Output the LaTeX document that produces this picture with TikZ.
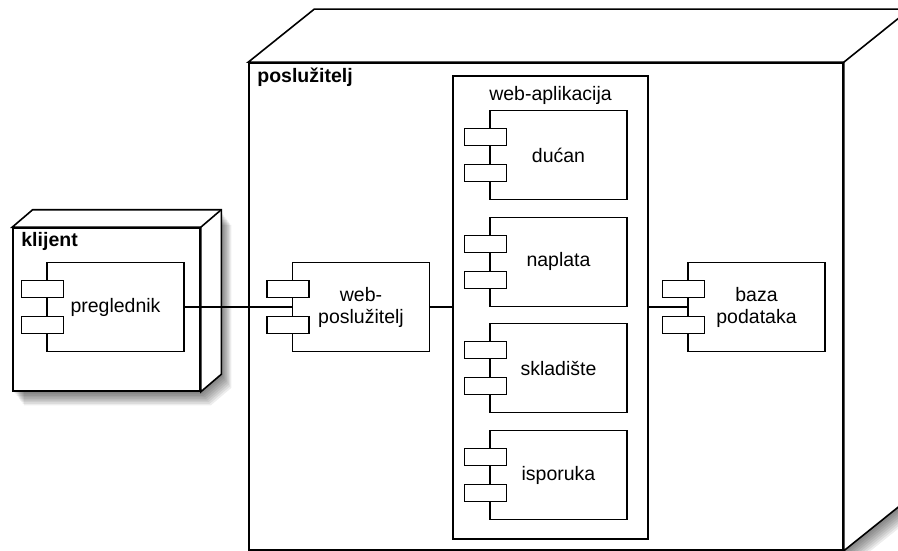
\documentclass[tikz,border=0pt]{standalone}
\usepackage{fontspec}
\setmainfont{Liberation Sans}
\begin{document}
\begin{tikzpicture}[x=1pt,y=-1pt,
  txt/.style={font=\fontsize{19.5}{22}\selectfont},
  btxt/.style={font=\fontsize{19.5}{22}\selectfont\bfseries},
  nodeline/.style={draw=black, line width=1.6pt, line join=miter},
  nodebox/.style={nodeline, fill=white, inner sep=0pt, rectangle},
  appbox/.style={draw=black, line width=1.3pt, fill=white, inner sep=0pt, rectangle},
  comp/.style={draw=black, line width=1.1pt, fill=white, rectangle, inner sep=0pt,
    minimum width=137pt, minimum height=89pt, align=center, txt},
  port/.style={draw=black, line width=1.1pt, fill=white, rectangle, inner sep=0pt,
    minimum width=42pt, minimum height=17pt},
  link/.style={draw=black, line width=1.1pt},
  shade/.style={fill=black, opacity=0.07}]
\useasboundingbox (0,0) rectangle (898,551);
\clip (0,0) rectangle (898,551);
\fill[white] (0,0) rectangle (898,551);

\newcommand\mycomp[4]{%
  \node[comp] (#1) at (#2,#3) {#4};
  \node[port] (#1a) at ([xshift=-4pt,yshift=18pt]#1.west) {};
  \node[port] (#1b) at ([xshift=-4pt,yshift=-18pt]#1.west) {};}

% shadows
\foreach \k in {1,...,9}{
  \fill[shade, shift={(\k*1.2,\k*1.6)}] (13,228) -- (33.5,210.5) -- (220.5,210.5) -- (220.5,373.5) -- (200,391) -- (13,391) -- cycle;
  \fill[shade, shift={(\k*1.2,\k*1.6)}] (249,63) -- (315,10) -- (909,10) -- (909,497) -- (843,550) -- (249,550) -- cycle;
}

% klijent node
\node[nodebox, minimum width=187pt, minimum height=163pt] (klijent) at (106.5,309.5) {};
\draw[nodeline, fill=white] (klijent.north west) -- ++(20.5,-17.5) -| ([shift={(20.5,-17.5)}]klijent.south east) -- (klijent.south east) -- (klijent.north east) -- cycle;
\draw[nodeline] (klijent.north east) -- ++(20.5,-17.5);
\node[btxt, anchor=north west, inner sep=0pt] (klijentlbl) at ([xshift=9pt,yshift=-5pt]klijent.north west) {klijent};

% posluzitelj node
\node[nodebox, minimum width=594pt, minimum height=487pt] (server) at (546,306.5) {};
\draw[nodeline, fill=white] (server.north west) -- ++(66,-53) -| ([shift={(66,-53)}]server.south east) -- (server.south east) -- (server.north east) -- cycle;
\draw[nodeline] (server.north east) -- ++(66,-53);
\node[btxt, anchor=north west, inner sep=0pt] (serverlbl) at ([xshift=9pt,yshift=-6pt]server.north west) {poslužitelj};

% web-aplikacija
\node[appbox, minimum width=195pt, minimum height=463pt] (webapp) at (550.5,307.5) {};
\node[txt, anchor=north, inner sep=0pt] (webapplbl) at ([yshift=-11pt]webapp.north) {web-aplikacija};

% components
\mycomp{preg}{115.5}{307}{preglednik}
\mycomp{websrv}{361}{307}{web-\\poslužitelj}
\mycomp{ducan}{558.5}{155}{dućan}
\mycomp{naplata}{558.5}{261.7}{naplata}
\mycomp{sklad}{558.5}{368.3}{skladište}
\mycomp{ispor}{558.5}{475}{isporuka}
\mycomp{baza}{756.5}{307}{baza\\podataka}

% connectors
\draw[link] (preg.east) -- (websrv.west);
\draw[link] (websrv.east) -- (websrv.east -| webapp.west);
\draw[link] (baza.west -| webapp.east) -- (baza.west);
\end{tikzpicture}
\end{document}
